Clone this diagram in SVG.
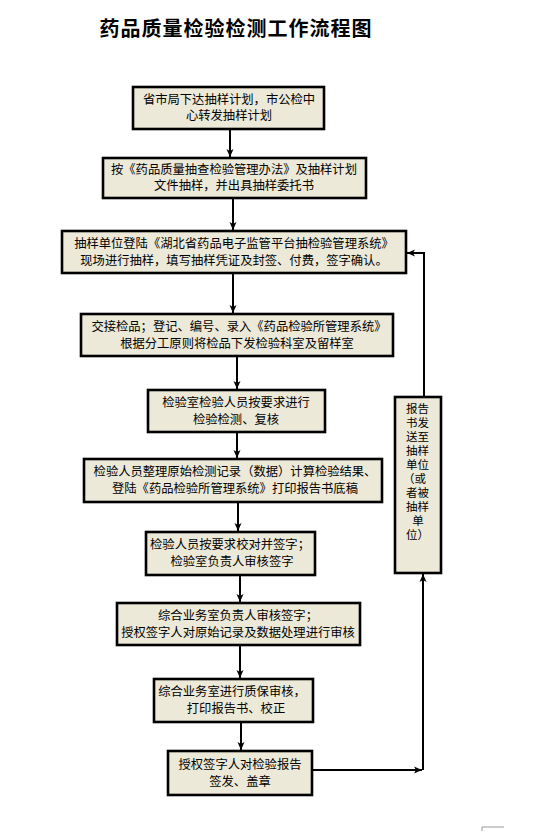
<svg xmlns="http://www.w3.org/2000/svg" width="533" height="831" viewBox="0 0 533 831">
<style>
.box{fill:#ECE9D8;stroke:#000;stroke-width:2.6}
.t{font-family:"Noto Sans CJK SC","Noto Sans",sans-serif;font-size:12.3px;fill:#000;text-anchor:middle}
.ts{font-family:"Noto Sans CJK SC","Noto Sans",sans-serif;font-size:11.5px;fill:#000}
.title{font-family:"Noto Sans CJK SC",sans-serif;font-size:20px;font-weight:700;letter-spacing:1px;fill:#000;text-anchor:middle}
.c{fill:none;stroke:#000;stroke-width:2}
</style>
<defs>
<marker id="ah" markerUnits="userSpaceOnUse" markerWidth="10" markerHeight="10" refX="8" refY="5" orient="auto">
<path d="M0,1.5 L8,5 L0,8.5 L2,5 Z" fill="#000"/>
</marker>
</defs>
<rect width="533" height="831" fill="#fff"/>
<text class="title" x="236" y="36">药品质量检验检测工作流程图</text>

<g id="connectors">
<path class="c" d="M230,129 V157" marker-end="url(#ah)"/>
<path class="c" d="M233,198 V230" marker-end="url(#ah)"/>
<path class="c" d="M233,273 V313" marker-end="url(#ah)"/>
<path class="c" d="M237,356 V389" marker-end="url(#ah)"/>
<path class="c" d="M237,432 V458" marker-end="url(#ah)"/>
<path class="c" d="M238,502 V531" marker-end="url(#ah)"/>
<path class="c" d="M240,575 V602" marker-end="url(#ah)"/>
<path class="c" d="M240,645 V678" marker-end="url(#ah)"/>
<path class="c" d="M241,722 V750" marker-end="url(#ah)"/>
<path class="c" d="M312,770 H422" marker-end="url(#ah)"/>
<path class="c" d="M423,770 V574" marker-end="url(#ah)"/>
<path class="c" d="M424,397 V253 H407" marker-end="url(#ah)"/>
</g>

<g id="n1"><rect class="box" x="133" y="87" width="191" height="42"/>
<text class="t" x="229" y="104">省市局下达抽样计划，市公检中</text>
<text class="t" x="229" y="120">心转发抽样计划</text></g>

<g id="n2"><rect class="box" x="103" y="158" width="263" height="40"/>
<text class="t" x="234" y="174">按《药品质量抽查检验管理办法》及抽样计划</text>
<text class="t" x="234" y="190">文件抽样，并出具抽样委托书</text></g>

<g id="n3"><rect class="box" x="62" y="231" width="344" height="42"/>
<text class="t" x="234" y="248">抽样单位登陆《湖北省药品电子监管平台抽检验管理系统》</text>
<text class="t" x="234" y="265">现场进行抽样，填写抽样凭证及封签、付费，签字确认。</text></g>

<g id="n4"><rect class="box" x="81" y="314" width="312" height="42"/>
<text class="t" x="239" y="331">交接检品；登记、编号、录入《药品检验所管理系统》</text>
<text class="t" x="237" y="348">根据分工原则将检品下发检验科室及留样室</text></g>

<g id="n5"><rect class="box" x="148" y="390" width="177" height="42"/>
<text class="t" x="236" y="407">检验室检验人员按要求进行</text>
<text class="t" x="236" y="424">检验检测、复核</text></g>

<g id="n6"><rect class="box" x="84" y="459" width="298" height="43"/>
<text class="t" x="235" y="476">检验人员整理原始检测记录（数据）计算检验结果、</text>
<text class="t" x="235" y="493">登陆《药品检验所管理系统》打印报告书底稿</text></g>

<g id="n7"><rect class="box" x="146" y="532" width="169" height="43"/>
<text class="t" x="230" y="549">检验人员按要求校对并签字；</text>
<text class="t" x="232" y="566">检验室负责人审核签字</text></g>

<g id="n8"><rect class="box" x="117" y="603" width="243" height="42"/>
<text class="t" x="238" y="620">综合业务室负责人审核签字；</text>
<text class="t" x="238" y="637">授权签字人对原始记录及数据处理进行审核</text></g>

<g id="n9"><rect class="box" x="154" y="679" width="159" height="43"/>
<text class="t" x="232" y="696">综合业务室进行质保审核，</text>
<text class="t" x="236" y="713">打印报告书、校正</text></g>

<g id="n10"><rect class="box" x="168" y="751" width="144" height="44"/>
<text class="t" x="240" y="769">授权签字人对检验报告</text>
<text class="t" x="240" y="786">签发、盖章</text></g>

<g id="n11"><rect class="box" x="395" y="397" width="46" height="176"/>
<text class="ts" x="406" y="413">报告</text>
<text class="ts" x="406" y="427">书发</text>
<text class="ts" x="406" y="441">送至</text>
<text class="ts" x="406" y="455">抽样</text>
<text class="ts" x="406" y="469">单位</text>
<text class="ts" x="403" y="483">（或</text>
<text class="ts" x="406" y="497">者被</text>
<text class="ts" x="406" y="511">抽样</text>
<text class="ts" x="418" y="525" text-anchor="middle">单</text>
<text class="ts" x="406" y="539">位）</text></g>

<path d="M482,831 V827 H504" fill="none" stroke="#999" stroke-width="1"/>
</svg>
